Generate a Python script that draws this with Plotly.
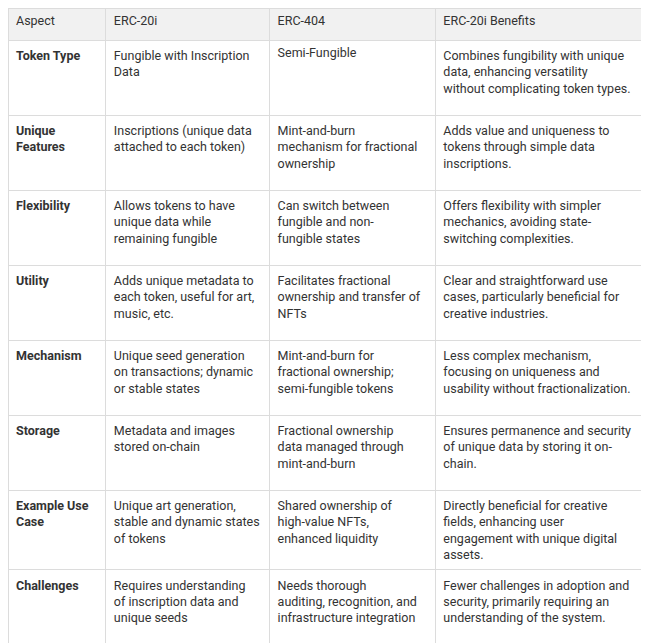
import plotly.graph_objects as go

header = ['Aspect', 'ERC-20i', 'ERC-404', 'ERC-20i Benefits']

aspects = ['Token Type', 'Unique<br>Features', 'Flexibility', 'Utility', 'Mechanism',
           'Storage', 'Example Use<br>Case', 'Challenges']

erc20i = [
    'Fungible with Inscription<br>Data',
    'Inscriptions (unique data<br>attached to each token)',
    'Allows tokens to have<br>unique data while<br>remaining fungible',
    'Adds unique metadata to<br>each token, useful for art,<br>music, etc.',
    'Unique seed generation<br>on transactions; dynamic<br>or stable states',
    'Metadata and images<br>stored on-chain',
    'Unique art generation,<br>stable and dynamic states<br>of tokens',
    'Requires understanding<br>of inscription data and<br>unique seeds',
]

erc404 = [
    'Semi-Fungible',
    'Mint-and-burn<br>mechanism for fractional<br>ownership',
    'Can switch between<br>fungible and non-<br>fungible states',
    'Facilitates fractional<br>ownership and transfer of<br>NFTs',
    'Mint-and-burn for<br>fractional ownership;<br>semi-fungible tokens',
    'Fractional ownership<br>data managed through<br>mint-and-burn',
    'Shared ownership of<br>high-value NFTs,<br>enhanced liquidity',
    'Needs thorough<br>auditing, recognition, and<br>infrastructure integration',
]

benefits = [
    'Combines fungibility with unique<br>data, enhancing versatility<br>without complicating token types.',
    'Adds value and uniqueness to<br>tokens through simple data<br>inscriptions.',
    'Offers flexibility with simpler<br>mechanics, avoiding state-<br>switching complexities.',
    'Clear and straightforward use<br>cases, particularly beneficial for<br>creative industries.',
    'Less complex mechanism,<br>focusing on uniqueness and<br>usability without fractionalization.',
    'Ensures permanence and security<br>of unique data by storing it on-<br>chain.',
    'Directly beneficial for creative<br>fields, enhancing user<br>engagement with unique digital<br>assets.',
    'Fewer challenges in adoption and<br>security, primarily requiring an<br>understanding of the system.',
]

line_col = '#dcdcdc'

fig = go.Figure(go.Table(
    columnwidth=[98, 164, 166, 212],
    header=dict(
        values=header,
        fill_color='#f1f1f1',
        line_color=line_col,
        align='left',
        height=32,
        font=dict(family='Roboto, Arial', size=12.5, color='#333'),
    ),
    cells=dict(
        values=[['<b>%s</b>' % a for a in aspects], erc20i, erc404, benefits],
        fill_color='white',
        line_color=line_col,
        align='left',
        height=75,
        font=dict(family='Roboto, Arial', size=12.5, color='#333'),
    ),
))

fig.update_layout(
    width=649, height=643,
    margin=dict(l=0, r=10, t=0, b=0),
    paper_bgcolor='white',
)

fig.write_html("out.html")
